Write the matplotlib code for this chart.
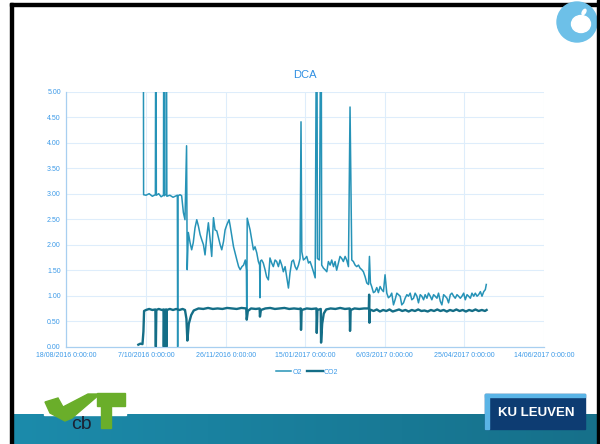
import numpy as np
import pandas as pd
import matplotlib
matplotlib.use("Agg")
import matplotlib.pyplot as plt
from matplotlib.colors import LinearSegmentedColormap
from matplotlib.patches import Rectangle, Polygon, Circle, Ellipse

plt.rcParams["font.family"] = ["Liberation Sans", "DejaVu Sans"]

# x axis: days since 18/08/2016
start_date = pd.Timestamp("2016-08-18")
tick_days = [0, 50, 100, 150, 200, 250, 300]
y_ticks = [0, 0.5, 1.0, 1.5, 2.0, 2.5, 3.0, 3.5, 4.0, 4.5, 5.0]

# O2 readings (values above 5 are off the chart)
o2_day = [48.3, 48.5, 50.0, 52.0, 54.0, 55.9, 56.2, 56.5, 58.0, 59.5,
          61.0, 61.2, 61.5, 62.6, 62.8, 63.1, 65.0, 67.0, 69.7, 69.9,
          70.1, 71.4, 72.4, 73.5, 74.5, 75.5, 75.9, 76.6, 77.7, 78.7,
          79.7, 80.8, 81.9, 82.9, 84.0, 85.0, 86.1, 87.1, 88.2, 89.2,
          90.3, 91.3, 92.4, 93.4, 94.5, 95.5, 96.6, 97.6, 98.7, 99.7,
          100.8, 102.2, 102.9, 104.0, 105.0, 106.1, 107.1, 108.2, 109.2, 110.3,
          111.3, 112.4, 113.1, 113.3, 113.6, 115.4, 116.4, 117.5, 118.5, 119.6,
          120.6, 121.4, 121.6, 121.9, 122.7, 123.7, 124.8, 125.8, 126.9, 127.9,
          129.0, 130.0, 131.1, 132.1, 133.2, 134.2, 135.3, 136.3, 137.4, 138.4,
          139.5, 140.5, 141.6, 142.6, 143.7, 144.7, 145.8, 146.8, 147.4, 147.9,
          148.9, 150.0, 151.0, 152.1, 153.1, 154.2, 155.2, 156.3, 157.3, 157.7,
          158.9, 160.0, 160.4, 161.5, 162.5, 163.6, 164.6, 165.7, 166.7, 167.8,
          168.8, 169.8, 170.9, 171.9, 173.0, 174.0, 175.1, 176.1, 177.2, 178.2,
          179.3, 180.3, 181.4, 182.4, 183.5, 184.5, 185.6, 186.6, 187.7, 188.7,
          189.8, 190.4, 191.0, 191.8, 192.9, 193.9, 195.0, 196.0, 197.1, 198.1,
          199.2, 200.2, 201.3, 202.3, 203.4, 204.4, 205.5, 206.5, 207.6, 208.6,
          209.7, 210.7, 211.8, 212.8, 213.9, 214.9, 216.0, 217.0, 218.1, 219.1,
          220.2, 221.2, 222.3, 223.3, 224.4, 225.4, 226.5, 227.5, 228.6, 229.6,
          230.7, 231.7, 232.8, 233.8, 234.9, 235.9, 237.0, 238.0, 239.1, 240.1,
          241.2, 242.2, 243.3, 244.3, 245.4, 246.4, 247.5, 248.5, 249.6, 250.6,
          251.7, 252.7, 253.8, 254.8, 255.9, 256.9, 258.0, 259.0, 260.1, 261.1,
          262.2, 263.2, 263.8]
o2_val = [8.0, 2.98, 2.97, 3.00, 2.95, 2.98, 8.0, 2.97, 3.00, 2.94,
          2.97, 8.0, 2.96, 2.99, 8.0, 2.95, 2.97, 2.93, 2.97, 0.0,
          2.96, 2.98, 2.96, 2.63, 2.49, 3.94, 1.51, 2.24, 2.04, 1.90,
          2.04, 2.33, 2.49, 2.37, 2.20, 2.10, 2.00, 1.80, 2.16, 2.43,
          2.10, 1.77, 2.53, 2.29, 2.27, 2.14, 2.00, 1.90, 2.06, 2.29,
          2.39, 2.49, 2.37, 2.16, 1.96, 1.82, 1.70, 1.57, 1.51, 1.57,
          1.60, 1.70, 1.50, 0.55, 2.52, 2.29, 2.10, 1.90, 1.96, 1.84,
          1.67, 1.60, 0.96, 1.68, 1.70, 1.64, 1.51, 1.37, 1.31, 1.74,
          1.64, 1.57, 1.70, 1.67, 1.57, 1.70, 1.60, 1.47, 1.57, 1.37,
          1.15, 1.45, 1.67, 1.70, 1.57, 1.51, 1.60, 1.73, 4.41, 1.86,
          1.70, 1.73, 1.77, 1.64, 1.67, 1.57, 1.47, 1.35, 8.0, 1.73,
          1.70, 8.0, 1.60, 1.54, 1.51, 1.47, 1.67, 1.60, 1.70, 1.57,
          1.67, 1.50, 1.64, 1.77, 1.73, 1.67, 1.77, 1.70, 1.57, 4.70,
          1.70, 1.67, 1.60, 1.57, 1.60, 1.54, 1.51, 1.47, 1.37, 1.25,
          1.22, 1.77, 1.25, 1.18, 1.06, 1.08, 1.16, 1.06, 1.18, 1.12,
          1.08, 1.41, 1.05, 0.96, 0.99, 1.05, 0.82, 0.92, 1.05, 1.02,
          0.99, 0.82, 0.86, 0.95, 1.02, 0.99, 1.05, 0.92, 0.95, 1.05,
          0.99, 0.86, 1.02, 0.99, 0.92, 1.02, 0.95, 1.05, 0.99, 0.92,
          1.02, 0.99, 0.95, 1.05, 0.89, 0.82, 1.02, 0.99, 0.95, 0.86,
          1.02, 1.05, 0.99, 0.95, 1.02, 0.99, 0.95, 0.99, 1.05, 0.92,
          1.02, 0.99, 0.95, 1.05, 0.99, 1.05, 0.99, 1.02, 1.08, 0.99,
          1.08, 1.12, 1.22]

# CO2 readings
co2_day = [45.2, 46.5, 47.8, 48.4, 48.8, 50.0, 52.0, 54.0, 55.9, 56.2,
           56.5, 58.0, 60.0, 61.0, 61.2, 61.5, 62.6, 62.8, 63.1, 65.0,
           67.0, 69.0, 71.0, 73.0, 74.5, 75.4, 76.0, 76.9, 78.4, 80.0,
           83.0, 86.0, 89.0, 92.0, 95.0, 98.0, 101.0, 104.0, 107.0, 110.0,
           113.0, 113.3, 114.0, 116.0, 119.0, 121.4, 121.6, 122.2, 125.0, 128.0,
           131.0, 134.0, 137.0, 140.0, 143.0, 146.0, 147.2, 147.4, 147.8, 151.0,
           154.0, 157.1, 157.3, 157.7, 159.8, 160.0, 160.7, 161.7, 163.2, 166.0,
           169.0, 172.0, 175.0, 178.0, 178.2, 178.6, 181.0, 184.0, 187.0, 190.0,
           190.2, 190.4, 190.7, 191.5, 193.0, 195.0, 197.0, 199.0, 201.0, 203.0,
           205.0, 207.0, 209.0, 211.0, 213.0, 215.0, 217.0, 219.0, 221.0, 223.0,
           225.0, 227.0, 229.0, 231.0, 233.0, 235.0, 237.0, 239.0, 241.0, 243.0,
           245.0, 247.0, 249.0, 251.0, 253.0, 255.0, 257.0, 259.0, 261.0, 263.0,
           264.0]
co2_val = [0.04, 0.06, 0.05, 0.30, 0.70, 0.72, 0.74, 0.72, 0.73, 0.0,
           0.72, 0.74, 0.72, 0.73, 0.0, 0.72, 0.73, 0.0, 0.72, 0.74,
           0.72, 0.74, 0.72, 0.74, 0.72, 0.55, 0.12, 0.45, 0.62, 0.71,
           0.75, 0.74, 0.76, 0.74, 0.75, 0.74, 0.76, 0.75, 0.74, 0.76,
           0.75, 0.53, 0.70, 0.75, 0.74, 0.75, 0.59, 0.72, 0.75, 0.76,
           0.74, 0.75, 0.76, 0.74, 0.75, 0.74, 0.75, 0.33, 0.72, 0.75,
           0.74, 0.75, 0.27, 0.72, 0.74, 0.08, 0.45, 0.65, 0.73, 0.75,
           0.74, 0.76, 0.74, 0.75, 0.31, 0.72, 0.75, 0.74, 0.75, 0.75,
           1.02, 0.47, 0.72, 0.72, 0.70, 0.73, 0.69, 0.72, 0.70, 0.73,
           0.69, 0.71, 0.73, 0.70, 0.72, 0.69, 0.72, 0.70, 0.73, 0.70,
           0.71, 0.69, 0.72, 0.70, 0.73, 0.70, 0.72, 0.69, 0.72, 0.70,
           0.73, 0.70, 0.72, 0.69, 0.72, 0.70, 0.73, 0.70, 0.72, 0.70,
           0.72]

fig = plt.figure(figsize=(6, 4.44), dpi=100)

# slide decoration, drawn in pixel coordinates
bg = fig.add_axes([0, 0, 1, 1])
bg.set_xlim(0, 600)
bg.set_ylim(444, 0)
bg.axis("off")

band_cmap = LinearSegmentedColormap.from_list("band", ["#1c8bab", "#16708a"])
bg.imshow(np.linspace(0, 1, 256).reshape(1, -1), cmap=band_cmap, aspect="auto",
          extent=[13, 597, 444, 414], zorder=1)

# vcbT logo
bg.add_patch(Rectangle((44, 392), 82, 23, color="white", zorder=2))
bg.add_patch(Polygon([(45, 402), (58, 398), (63, 407), (88, 394), (100, 394),
                      (72, 418), (65, 421), (50, 413)], closed=True,
                     color="#6aae2a", zorder=3))
bg.add_patch(Rectangle((97, 393), 28, 13, color="#6aae2a", zorder=3))
bg.add_patch(Rectangle((101, 405), 10, 23, color="#6aae2a", zorder=3))
bg.text(71, 429, "cb", fontsize=14, color="#1b2233", ha="left", va="baseline", zorder=4)

# KU Leuven logo
bg.add_patch(Rectangle((485, 394), 100, 35, color="#0d3c72", zorder=3))
bg.add_patch(Rectangle((485, 394), 4, 35, color="#5ab4e6", zorder=4))
bg.add_patch(Rectangle((485, 394), 100, 3, color="#5ab4e6", zorder=4))
bg.text(536, 413, "KU LEUVEN", fontsize=9.5, fontweight="bold", color="white",
        ha="center", va="center", zorder=5)

# frame
bg.add_patch(Rectangle((10, 3), 3, 441, color="black", zorder=6))
bg.add_patch(Rectangle((10, 3), 590, 3, color="black", zorder=6))
bg.add_patch(Circle((577, 22), 20, color="#6dc0e8", zorder=7))
bg.add_patch(Ellipse((581, 24), 19, 17, color="white", zorder=8))
bg.add_patch(Ellipse((584, 12), 3, 6, angle=30, color="white", zorder=8))
bg.add_patch(Rectangle((597, 0), 3, 444, color="black", zorder=9))

# chart
ax = fig.add_axes([66.4 / 600, 1 - 346.7 / 444, (543.9 - 66.4) / 600, (346.7 - 91.7) / 444])
ax.patch.set_alpha(0)
ax.plot(o2_day, o2_val, color="#2693b7", lw=1.1, label="O2", zorder=3)
ax.plot(co2_day, co2_val, color="#146e87", lw=1.7, label="CO2", zorder=4)

ax.set_xlim(0, 300)
ax.set_ylim(0, 5)
ax.set_xticks(tick_days)
dates = [start_date + pd.Timedelta(days=d) for d in tick_days]
ax.set_xticklabels([f"{d.day}/{d.month:02d}/{d.year} 0:00:00" for d in dates])
ax.set_yticks(y_ticks)
ax.set_yticklabels([f"{v:.2f}" for v in y_ticks])
ax.tick_params(length=0, labelsize=5, labelcolor="#3c9ae8", pad=4)
ax.grid(color="#deedfb", lw=0.8, zorder=0)
ax.set_axisbelow(True)
for side in ["top", "right"]:
    ax.spines[side].set_visible(False)
for side in ["left", "bottom"]:
    ax.spines[side].set_color("#a8cff0")
    ax.spines[side].set_linewidth(0.9)

fig.text(305 / 600, 1 - 75 / 444, "DCA", fontsize=8, color="#2f8fe2", ha="center", va="center")
fig.legend(loc="center", bbox_to_anchor=(307 / 600, 1 - 372 / 444), ncol=2, frameon=False,
           fontsize=5, labelcolor="#3c9ae8", handlelength=2.2, handletextpad=0.2,
           columnspacing=0.8)

plt.savefig("out.png", dpi=100)
